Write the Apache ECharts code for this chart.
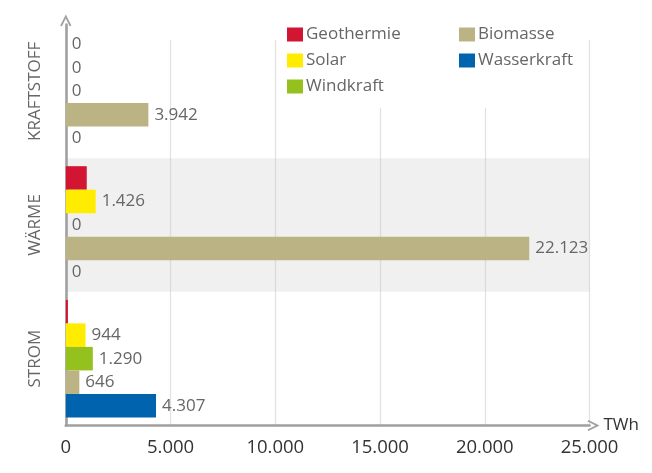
<!DOCTYPE html>
<html>
<head>
<meta charset="utf-8">
<script src="https://cdn.jsdelivr.net/npm/echarts@6/dist/echarts.min.js"></script>
<style>
html,body{margin:0;padding:0;background:#fff;}
#chart{width:652px;height:473px;}
</style>
</head>
<body>
<div id="chart"></div>
<script>
// Categories bottom to top
var categories = ['STROM', 'WÄRME', 'KRAFTSTOFF'];
// Values in TWh, per category [STROM, WÄRME, KRAFTSTOFF]
var geothermie  = [100, 1000, 0];
var solar       = [944, 1426, 0];
var windkraft   = [1290, 0, 0];
var biomasse    = [646, 22123, 3942];
var wasserkraft = [4307, 0, 0];
var xTicks = [0, 5000, 10000, 15000, 20000, 25000];
var unit = 'TWh';

var colors = {
  Geothermie: '#d31534',
  Solar: '#ffec00',
  Windkraft: '#95c11f',
  Biomasse: '#bcb384',
  Wasserkraft: '#0063ad'
};
var FONT = '"Open Sans", sans-serif';

function de(v) {
  return String(v).replace(/\B(?=(\d{3})+(?!\d))/g, '.');
}

function mkSeries(name, data, hideNonZero) {
  return {
    name: name,
    type: 'bar',
    data: data,
    barGap: '0%',
    barCategoryGap: '12%',
    itemStyle: { color: colors[name] },
    label: {
      show: true,
      position: 'right',
      distance: 6,
      color: '#666',
      fontSize: 17,
      fontFamily: FONT,
      formatter: function (p) {
        if (hideNonZero && p.value > 0) return '';
        return de(p.value);
      }
    }
  };
}

var chevron = 'path://M0,10 L5,0 L10,10 L8.6,10.8 L5,3.6 L1.4,10.8 Z';

var chart = echarts.init(document.getElementById('chart'), null, { renderer: 'canvas' });
chart.setOption({
  animation: false,
  textStyle: { fontFamily: FONT },
  grid: { left: 65.8, right: 62.5, top: 24.5, bottom: 47.5, containLabel: false },
  legend: [
    {
      data: ['Geothermie', 'Solar', 'Windkraft'],
      orient: 'vertical',
      left: 282, top: 21,
      icon: 'rect', itemWidth: 16, itemHeight: 14, itemGap: 9,
      textStyle: { color: '#666', fontSize: 17, fontFamily: FONT, padding: [0, 0, 0, -2] },
      selectedMode: false
    },
    {
      data: ['Biomasse', 'Wasserkraft'],
      orient: 'vertical',
      left: 454, top: 21,
      icon: 'rect', itemWidth: 16, itemHeight: 14, itemGap: 9,
      textStyle: { color: '#666', fontSize: 17, fontFamily: FONT, padding: [0, 0, 0, -2] },
      selectedMode: false
    }
  ],
  graphic: [
    { type: 'rect', z: 1, shape: { x: 100, y: 0, width: 500, height: 40 }, style: { fill: '#fff' } },
    { type: 'rect', z: 1, shape: { x: 280, y: 0, width: 306, height: 108 }, style: { fill: '#fff' } }
  ],
  xAxis: {
    type: 'value',
    min: xTicks[0],
    max: xTicks[xTicks.length - 1],
    interval: xTicks[1] - xTicks[0],
    name: unit,
    nameLocation: 'end',
    nameGap: 14,
    nameTextStyle: { color: '#333', fontSize: 17, fontFamily: FONT, verticalAlign: 'middle', padding: [4, 0, 0, 0] },
    axisLine: {
      show: true,
      lineStyle: { color: '#a0a0a0', width: 2.6 },
      symbol: ['none', chevron],
      symbolSize: [22, 12],
      symbolOffset: [0, 4]
    },
    axisTick: { show: false },
    axisLabel: {
      color: '#333', fontSize: 18.5, fontFamily: FONT, margin: 13,
      formatter: function (v) { return de(v); }
    },
    splitLine: { show: true, lineStyle: { color: '#c4c4c4', type: [1, 1], width: 1.2 } }
  },
  yAxis: {
    type: 'category',
    data: categories,
    axisLine: {
      show: true,
      lineStyle: { color: '#a0a0a0', width: 2.6 },
      symbol: ['none', chevron],
      symbolSize: [22, 12],
      symbolOffset: [0, 4]
    },
    axisTick: { show: false },
    axisLabel: {
      rotate: 90, color: '#666', fontSize: 17, fontFamily: FONT, margin: 22
    },
    splitArea: { show: true, areaStyle: { color: ['rgba(255,255,255,0)', '#f0f0f0'] } },
    splitLine: { show: false }
  },
  series: [
    mkSeries('Geothermie', geothermie, true),
    mkSeries('Solar', solar, false),
    mkSeries('Windkraft', windkraft, false),
    mkSeries('Biomasse', biomasse, false),
    mkSeries('Wasserkraft', wasserkraft, false)
  ]
});
</script>
</body>
</html>
